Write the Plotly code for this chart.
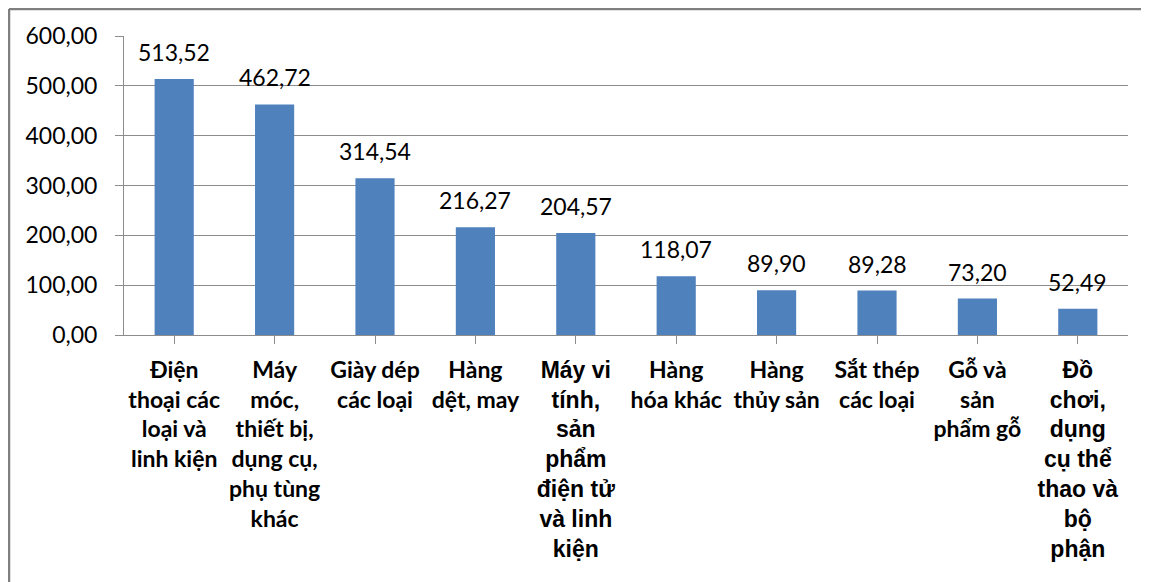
import plotly.graph_objects as go

categories = [
    "Điện<br>thoại các<br>loại và<br>linh kiện",
    "Máy<br>móc,<br>thiết bị,<br>dụng cụ,<br>phụ tùng<br>khác",
    "Giày dép<br>các loại",
    "Hàng<br>dệt, may",
    "<span style='font-family:Liberation Sans'>Máy vi<br>tính,<br>sản<br>phẩm<br>điện tử<br>và linh<br>kiện</span>",
    "Hàng<br>hóa khác",
    "Hàng<br>thủy sản",
    "Sắt thép<br>các loại",
    "Gỗ và<br>sản<br>phẩm gỗ",
    "<span style='font-family:Liberation Sans'>Đồ<br>chơi,<br>dụng<br>cụ thể<br>thao và<br>bộ<br>phận</span>",
]
values = [513.52, 462.72, 314.54, 216.27, 204.57, 118.07, 89.90, 89.28, 73.20, 52.49]
y_ticks = [0, 100, 200, 300, 400, 500, 600]

# page body has an 8px margin; figure sized to fit the window
W, H = 1141, 574
L, R, T, B = 116, 21, 28, 247
pw, ph = W - L - R, H - T - B

fig = go.Figure()
fig.add_trace(go.Bar(
    x=list(range(len(values))), y=values,
    marker=dict(color="#4F81BD", line=dict(width=0)),
    width=0.39,
    hoverinfo="skip",
))

annotations = []
for i, v in enumerate(values):
    annotations.append(dict(
        x=i, y=v, xref="x", yref="y",
        text=f"{v:.2f}".replace(".", ","),
        showarrow=False, yanchor="bottom", yshift=11,
        font=dict(family="Lato", size=23, color="#000000"),
    ))

gray = "#8C8C8C"
shapes = [
    dict(type="line", xref="paper", yref="paper",
         x0=(1 - L) / pw, x1=(W + 5 - L) / pw,
         y0=1 + (T - 1) / ph, y1=1 + (T - 1) / ph,
         line=dict(color="#7F7F7F", width=2.5)),
    dict(type="line", xref="paper", yref="paper",
         x0=(1 - L) / pw, x1=(1 - L) / pw,
         y0=1 + (T - 1) / ph, y1=-(B + 5) / ph,
         line=dict(color="#7F7F7F", width=2.5)),
]

fig.update_layout(
    width=W, height=H,
    margin=dict(l=L, r=R, t=T, b=B),
    paper_bgcolor="white", plot_bgcolor="white",
    separators=",.",
    showlegend=False,
    annotations=annotations,
    shapes=shapes,
    font=dict(family="Lato", color="#000000"),
)
fig.update_xaxes(
    tickmode="array", tickvals=list(range(len(values))), ticktext=categories,
    range=[-0.5, len(values) - 0.5],
    showline=True, linecolor=gray, linewidth=1,
    ticks="outside", ticklen=8, tickcolor=gray,
    showgrid=False, zeroline=False,
    tickfont=dict(family="Lato", size=23, color="#000000", weight="bold"),
    tickangle=0, ticklabelstandoff=6,
    automargin=False,
)
fig.update_yaxes(
    range=[0, 600], tickvals=y_ticks, tickformat=".2f",
    showline=True, linecolor=gray, linewidth=1,
    ticks="outside", ticklen=8, tickcolor=gray,
    showgrid=True, gridcolor=gray, gridwidth=1,
    zeroline=False,
    tickfont=dict(family="Lato", size=23, color="#000000"),
    ticklabelstandoff=13,
    automargin=False,
)
fig.write_html("out.html")
